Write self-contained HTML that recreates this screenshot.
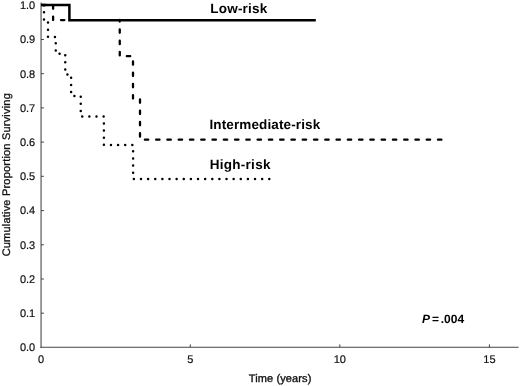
<!DOCTYPE html>
<html>
<head>
<meta charset="utf-8">
<title>Survival</title>
<style>
html,body{margin:0;padding:0;background:#fff;}
svg{display:block;}
text{font-family:"Liberation Sans",Arial,sans-serif;fill:#111;text-rendering:geometricPrecision;}
.tk{font-size:11px;stroke:#111;stroke-width:0.2px;}
.lb{font-size:13.5px;font-weight:bold;fill:#000;}
.ax{font-size:11px;stroke:#111;stroke-width:0.3px;}
</style>
</head>
<body>
<svg width="520" height="386" viewBox="0 0 520 386">
<rect width="520" height="386" fill="#fff"/>
<!-- axes -->
<line x1="41.1" y1="2.5" x2="41.1" y2="347.8" stroke="#909090" stroke-width="1.8"/>
<line x1="40.3" y1="347.3" x2="518.6" y2="347.3" stroke="#444" stroke-width="1.1"/>
<!-- y ticks -->
<g stroke="#444" stroke-width="1">
<line x1="41" y1="39.5" x2="43.9" y2="39.5"/>
<line x1="41" y1="73.7" x2="43.9" y2="73.7"/>
<line x1="41" y1="107.9" x2="43.9" y2="107.9"/>
<line x1="41" y1="142.1" x2="43.9" y2="142.1"/>
<line x1="41" y1="176.3" x2="43.9" y2="176.3"/>
<line x1="41" y1="210.6" x2="43.9" y2="210.6"/>
<line x1="41" y1="244.8" x2="43.9" y2="244.8"/>
<line x1="41" y1="279.0" x2="43.9" y2="279.0"/>
<line x1="41" y1="313.2" x2="43.9" y2="313.2"/>
<line x1="190.3" y1="347.3" x2="190.3" y2="344.4"/>
<line x1="339.8" y1="347.3" x2="339.8" y2="344.4"/>
<line x1="489.4" y1="347.3" x2="489.4" y2="344.4"/>
</g>
<!-- y labels -->
<g class="tk" text-anchor="end">
<text x="35.2" y="9.1">1.0</text>
<text x="35.2" y="43.3">0.9</text>
<text x="35.2" y="77.5">0.8</text>
<text x="35.2" y="111.7">0.7</text>
<text x="35.2" y="145.9">0.6</text>
<text x="35.2" y="180.1">0.5</text>
<text x="35.2" y="214.3">0.4</text>
<text x="35.2" y="248.5">0.3</text>
<text x="35.2" y="282.7">0.2</text>
<text x="35.2" y="316.9">0.1</text>
<text x="35.2" y="351.1">0.0</text>
</g>
<g class="tk" text-anchor="middle">
<text x="41" y="363.2">0</text>
<text x="190.3" y="363.2">5</text>
<text x="339.8" y="363.2">10</text>
<text x="489.4" y="363.2">15</text>
</g>
<text class="ax" x="280.1" y="381.8" text-anchor="middle" style="letter-spacing:0.12px;stroke-width:0.35px">Time (years)</text>
<text class="ax" transform="translate(10.1,174.7) rotate(-90)" text-anchor="middle" style="letter-spacing:0.2px">Cumulative Proportion Surviving</text>
<!-- curves -->
<path d="M41,5 H44 V20.5 H48 V37 H55.75 V53.75 H65.25 V74.4 H71.1 V95.9 H80.75 V116.6 H103.9 V144.9 H133.1 V179 H270" fill="none" stroke="#000" stroke-width="2.5" stroke-linecap="round" stroke-dasharray="0 7.127" stroke-dashoffset="-3.17"/>
<path d="M41,5 H53.1 V20.1 H68" fill="none" stroke="#000" stroke-width="2.3" stroke-linecap="round" stroke-dasharray="3.4 7.875" stroke-dashoffset="-1.25"/>
<path d="M119.75,20 V56.2 H133 V98.8 H140 V139.65 H444" fill="none" stroke="#000" stroke-width="2.3" stroke-linecap="round" stroke-dasharray="3.4 7.875" stroke-dashoffset="-9.45"/>
<path d="M41,5.05 H69.4 V20.3 H315.8" fill="none" stroke="#000" stroke-width="2.5" stroke-linejoin="miter"/>
<!-- labels -->
<text class="lb" x="210.3" y="12.6" style="letter-spacing:0.2px">Low-risk</text>
<text class="lb" x="209.5" y="129.3" style="letter-spacing:0.12px">Intermediate-risk</text>
<text class="lb" x="209.7" y="169.1" style="letter-spacing:0.28px">High-risk</text>
<text class="lb" x="422" y="322.6" style="font-size:12px"><tspan font-style="italic">P</tspan><tspan dx="-1.4"> =</tspan><tspan dx="-1.5"> .004</tspan></text>
</svg>
</body>
</html>
